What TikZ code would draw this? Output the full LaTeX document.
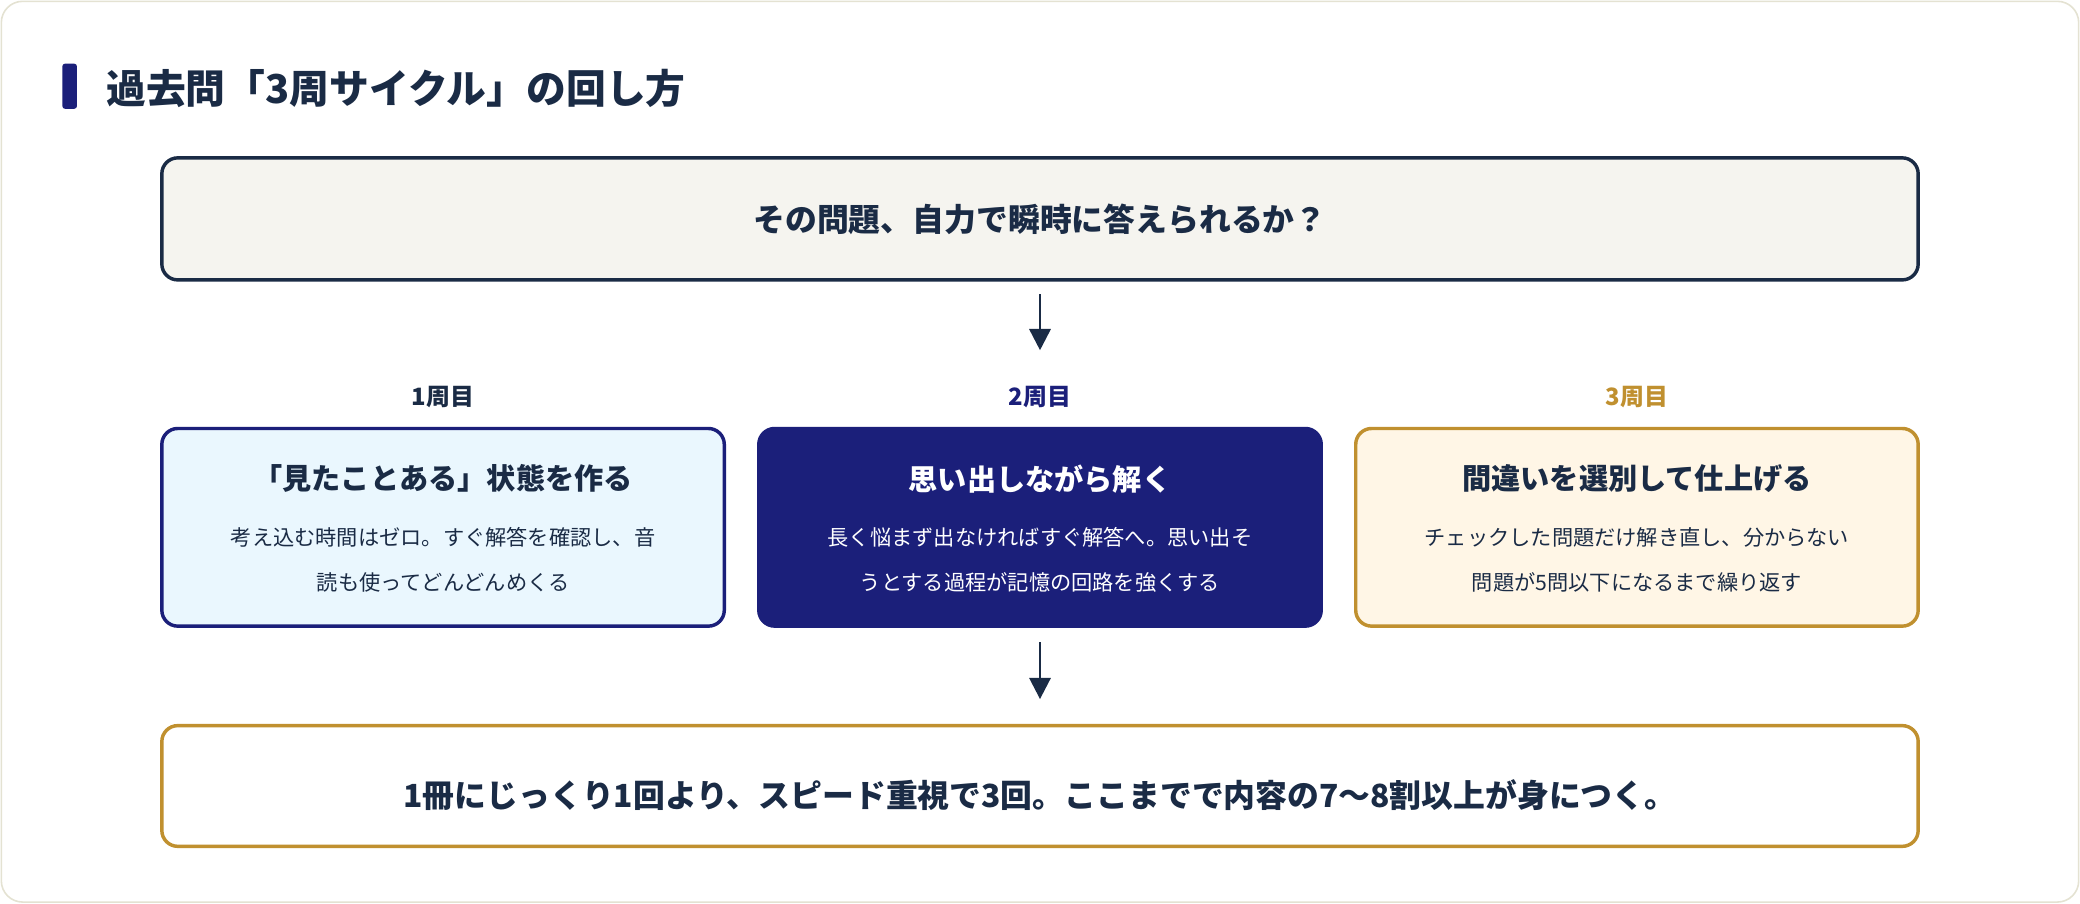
\documentclass[tikz,border=0pt]{standalone}
\usepackage{fontspec}
\setmainfont{Noto Sans CJK JP}
\usetikzlibrary{arrows.meta}
\definecolor{dk}{HTML}{1A2B45}
\definecolor{nv}{HTML}{1B1F7A}
\definecolor{gd}{HTML}{C0902F}
\definecolor{bg1}{HTML}{F5F4EF}
\definecolor{lb}{HTML}{EAF7FE}
\definecolor{cr}{HTML}{FFF6E6}
\definecolor{frame}{HTML}{E4E2D2}
\begin{document}
\begin{tikzpicture}[x=0.5pt,y=-0.5pt,
 box/.style={draw,line width=1.3pt,rounded corners=6pt},
 arr/.style={draw=dk,line width=1pt,-{Triangle[length=8pt,width=8pt]}},
 ttl/.style={font=\bfseries\fontsize{11}{13}\selectfont},
 body/.style={font=\fontsize{8}{17}\selectfont,align=center},
 lab/.style={font=\bfseries\fontsize{9}{11}\selectfont}]
\useasboundingbox (0,0) rectangle (1568,681);
\draw[frame,fill=white,rounded corners=8pt,line width=0.6pt] (1,1) rectangle (1567,680);
\fill[nv,rounded corners=1pt] (47,48) rectangle (58,82);
\node[anchor=west,text=dk,font=\bfseries\fontsize{15}{17}\selectfont] (title) at (73,67) {過去問「3周サイクル」の回し方};
\draw[box,draw=dk,fill=bg1] (122,119) rectangle (1446,211);
\node[text=dk,font=\bfseries\fontsize{12}{14}\selectfont] (q) at (784,165) {その問題、自力で瞬時に答えられるか？};
\coordinate (a1s) at (784,222); \coordinate (a1e) at (784,264);
\draw[arr] (a1s) -- (a1e);
\node[lab,text=dk] (l1) at (334,299) {1周目};
\node[lab,text=nv] (l2) at (784,299) {2周目};
\node[lab,text=gd] (l3) at (1234,299) {3周目};
\draw[box,draw=nv,fill=lb] (122,323) rectangle (546,472);
\draw[box,draw=nv,fill=nv] (572,323) rectangle (996,472);
\draw[box,draw=gd,fill=cr] (1022,323) rectangle (1446,472);
\node[ttl,text=dk] (t1) at (334,361) {「見たことある」状態を作る};
\node[body,text=dk] (b1) at (334,422) {考え込む時間はゼロ。すぐ解答を確認し、音\\読も使ってどんどんめくる};
\node[ttl,text=white] (t2) at (784,361) {思い出しながら解く};
\node[body,text=white] (b2) at (784,422) {長く悩まず出なければすぐ解答へ。思い出そ\\うとする過程が記憶の回路を強くする};
\node[ttl,text=dk] (t3) at (1234,361) {間違いを選別して仕上げる};
\node[body,text=dk] (b3) at (1234,422) {チェックした問題だけ解き直し、分からない\\問題が5問以下になるまで繰り返す};
\coordinate (a2s) at (784,484); \coordinate (a2e) at (784,527);
\draw[arr] (a2s) -- (a2e);
\draw[box,draw=gd,fill=white] (122,547) rectangle (1446,638);
\node[text=dk,font=\bfseries\fontsize{12}{14}\selectfont] (c) at (784,599) {1冊にじっくり1回より、スピード重視で3回。ここまでで内容の7〜8割以上が身につく。};
\end{tikzpicture}
\end{document}
